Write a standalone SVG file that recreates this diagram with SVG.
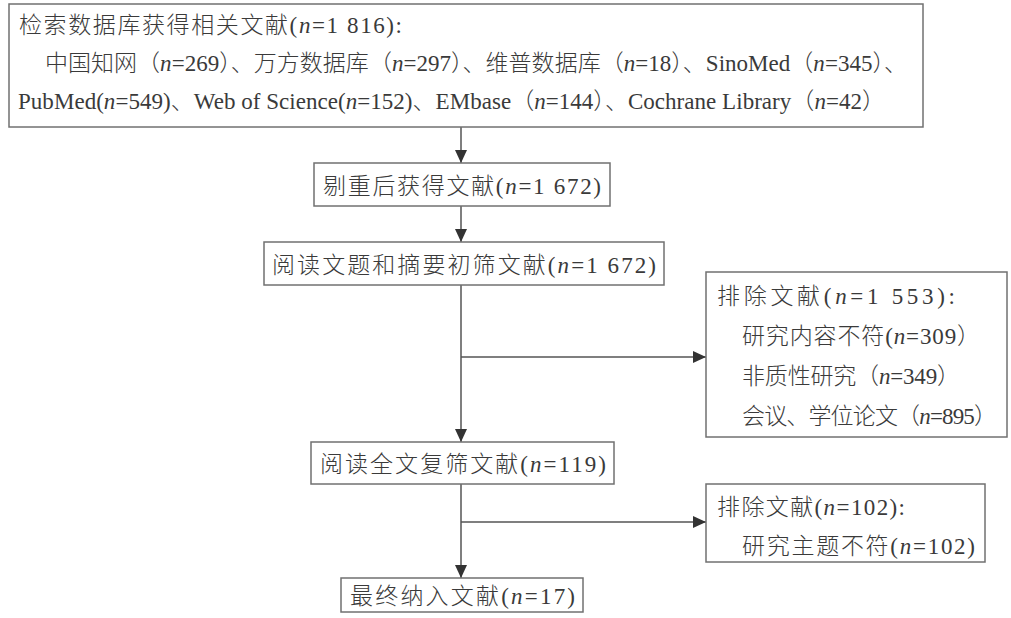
<svg xmlns="http://www.w3.org/2000/svg" width="1011" height="618" viewBox="0 0 1011 618">
<style>
.box{fill:#fff;stroke:#707070;stroke-width:1.5}
.t{font-family:"Liberation Serif","Noto Sans CJK SC",serif;font-size:23px;font-weight:300;fill:#3a3a3a}
.c{stroke:#555;stroke-width:1.5;fill:none}
</style>
<defs>
<marker id="ah" markerUnits="userSpaceOnUse" markerWidth="14" markerHeight="12" refX="13" refY="6" orient="auto">
<path d="M0,0 L13,6 L0,12 Z" fill="#333"/>
</marker>
</defs>
<rect width="1011" height="618" fill="#fff"/>
<g id="connectors">
<line class="c" x1="461" y1="127" x2="461" y2="163" marker-end="url(#ah)"/>
<line class="c" x1="461" y1="206" x2="461" y2="242" marker-end="url(#ah)"/>
<line class="c" x1="461" y1="285" x2="461" y2="442" marker-end="url(#ah)"/>
<line class="c" x1="461" y1="357" x2="706" y2="357" marker-end="url(#ah)"/>
<line class="c" x1="461" y1="484" x2="461" y2="578" marker-end="url(#ah)"/>
<line class="c" x1="461" y1="522" x2="706" y2="522" marker-end="url(#ah)"/>
</g>
<g id="search">
<rect class="box" x="9" y="4" width="914" height="123"/>
<text class="t" x="19" y="33" textLength="383" lengthAdjust="spacing">检索数据库获得相关文献(<tspan font-style="italic">n</tspan>=1 816):</text>
<text class="t" x="45" y="71" textLength="862" lengthAdjust="spacing">中国知网（<tspan font-style="italic">n</tspan>=269）、万方数据库（<tspan font-style="italic">n</tspan>=297）、维普数据库（<tspan font-style="italic">n</tspan>=18）、SinoMed（<tspan font-style="italic">n</tspan>=345）、</text>
<text class="t" x="18" y="109" textLength="867" lengthAdjust="spacing">PubMed(<tspan font-style="italic">n</tspan>=549)、Web of Science(<tspan font-style="italic">n</tspan>=152)、EMbase（<tspan font-style="italic">n</tspan>=144）、Cochrane Library（<tspan font-style="italic">n</tspan>=42）</text>
</g>
<g id="dedup">
<rect class="box" x="314" y="163" width="296" height="43"/>
<text class="t" x="323" y="194" textLength="278" lengthAdjust="spacing">剔重后获得文献(<tspan font-style="italic">n</tspan>=1 672)</text>
</g>
<g id="screen1">
<rect class="box" x="264" y="242" width="400" height="43"/>
<text class="t" x="272" y="273" textLength="384" lengthAdjust="spacing">阅读文题和摘要初筛文献(<tspan font-style="italic">n</tspan>=1 672)</text>
</g>
<g id="exclude1">
<rect class="box" x="706" y="272" width="301" height="165"/>
<text class="t" x="717" y="304" textLength="238" lengthAdjust="spacing">排除文献(<tspan font-style="italic">n</tspan>=1 553):</text>
<text class="t" x="742" y="344" textLength="238" lengthAdjust="spacing">研究内容不符(<tspan font-style="italic">n</tspan>=309）</text>
<text class="t" x="742" y="384" textLength="218" lengthAdjust="spacing">非质性研究（<tspan font-style="italic">n</tspan>=349）</text>
<text class="t" x="742" y="424" textLength="255" lengthAdjust="spacing">会议、学位论文（<tspan font-style="italic">n</tspan>=895）</text>
</g>
<g id="screen2">
<rect class="box" x="311" y="442" width="303" height="42"/>
<text class="t" x="320" y="472" textLength="286" lengthAdjust="spacing">阅读全文复筛文献(<tspan font-style="italic">n</tspan>=119)</text>
</g>
<g id="exclude2">
<rect class="box" x="706" y="484" width="279" height="78"/>
<text class="t" x="717" y="515" textLength="188" lengthAdjust="spacing">排除文献(<tspan font-style="italic">n</tspan>=102):</text>
<text class="t" x="742" y="554" textLength="233" lengthAdjust="spacing">研究主题不符(<tspan font-style="italic">n</tspan>=102)</text>
</g>
<g id="final">
<rect class="box" x="341" y="578" width="242" height="34"/>
<text class="t" x="350" y="604" textLength="225" lengthAdjust="spacing">最终纳入文献(<tspan font-style="italic">n</tspan>=17)</text>
</g>
</svg>
